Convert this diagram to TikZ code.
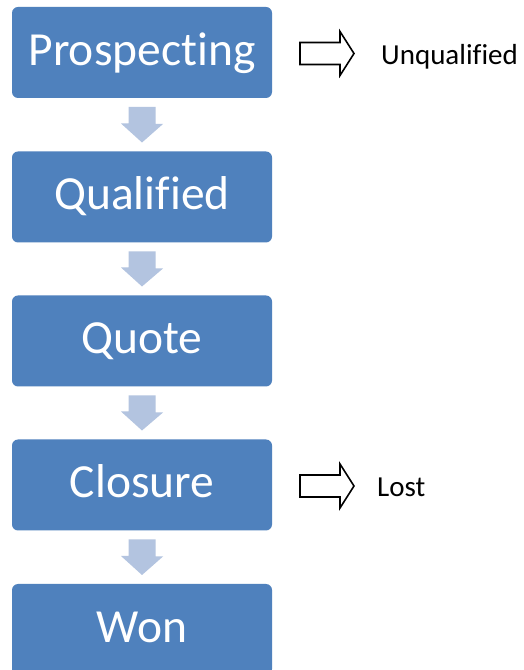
\documentclass[tikz,border=0pt]{standalone}
\usepackage{fontspec}
\setmainfont{Carlito}[Ligatures={NoCommon,NoRequired,NoContextual,NoRare}]
\usetikzlibrary{calc}
\newcommand\brk{\kern0pt{}}
\definecolor{boxblue}{HTML}{4F81BD}
\definecolor{arrowblue}{HTML}{B3C4E0}
\tikzset{
  stage/.style={fill=boxblue, rounded corners=6pt, minimum width=260pt, minimum height=91pt,
    inner sep=0pt, outer sep=0pt, text=white, font=\fontsize{47.5}{50}\selectfont,
    text height=35pt, text depth=9pt},
  flowarrow/.style={fill=arrowblue},
  outarrow/.style={draw=black, line width=1.6pt, fill=white, line join=miter},
  outlabel/.style={anchor=base west, inner sep=0pt, font=\fontsize{29}{31}\selectfont}
}
\begin{document}
\begin{tikzpicture}[x=1pt,y=1pt]
\useasboundingbox (0,0) rectangle (523,670);
\fill[white] (0,0) rectangle (523,670);
\clip (0,0) rectangle (523,670);
\node[stage] (p) at (142,617.5) {Prospec\brk ting};
\node[stage] (q) at (142,473) {Qualif\brk ied};
\node[stage] (qu) at (142,329) {Quote};
\node[stage] (c) at (142,185) {Closure};
\node[stage] (w) at (142,40.5) {Won};
\foreach \a/\b in {p/q, q/qu, qu/c, c/w}{
  \fill[flowarrow] ($(\a.south)+(-13.5,-9)$) -- ++(27,0) -- ++(0,-17) -- ++(7.5,0)
    -- ($(\b.north)+(0,9)$) -- ++(-21,19) -- ++(7.5,0) -- cycle;
}
\node[outlabel] (u) at (381,605) {Unqualif\brk ied};
\node[outlabel] (l) at (377,173) {Lost};
\foreach \a in {p, c}{
  \draw[outarrow] ($(\a.east)+(28,10)$) -- ++(40,0) -- ++(0,11) -- ++(14,-22)
    -- ++(-14,-22) -- ++(0,11) -- ++(-40,0) -- cycle;
}
\end{tikzpicture}
\end{document}
